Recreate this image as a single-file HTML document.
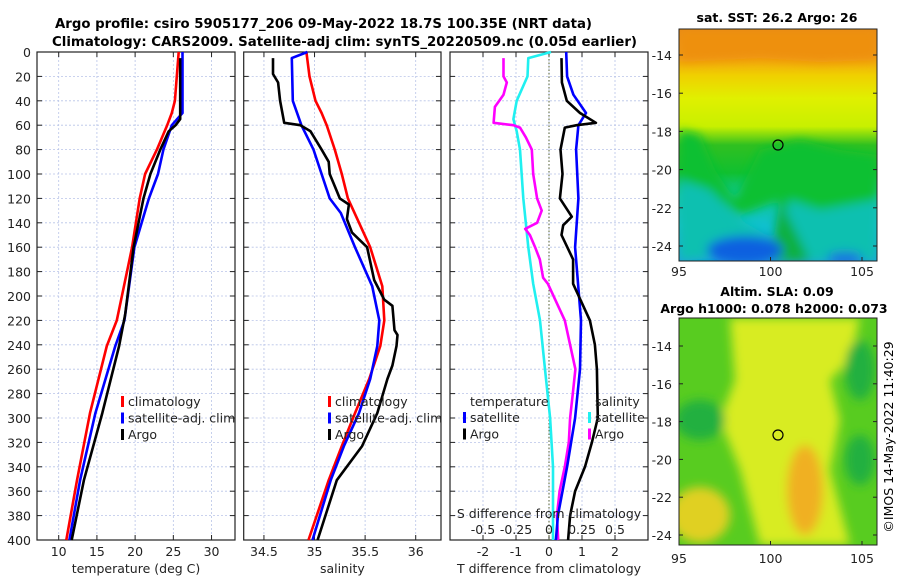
<!DOCTYPE html>
<html><head><meta charset="utf-8"><style>
body{margin:0;background:#fff;}
svg{display:block;font-family:"DejaVu Sans","Liberation Sans",sans-serif;}
</style></head><body>
<svg id="fig" width="900" height="580" viewBox="0 0 900 580" xmlns="http://www.w3.org/2000/svg">
<defs>
<filter id="blur" x="-20%" y="-20%" width="140%" height="140%"><feGaussianBlur stdDeviation="5"/></filter>
<clipPath id="cm1"><rect x="679" y="29" width="198" height="232"/></clipPath>
<clipPath id="cm2"><rect x="679" y="318" width="198" height="227"/></clipPath>
<linearGradient id="sstg" x1="0" y1="0" x2="0" y2="1">
<stop offset="0" stop-color="#e88a10"/><stop offset="0.12" stop-color="#f2a010"/>
<stop offset="0.2" stop-color="#f0d000"/><stop offset="0.3" stop-color="#e0f000"/>
<stop offset="0.42" stop-color="#c8f000"/><stop offset="0.5" stop-color="#30c020"/>
<stop offset="0.62" stop-color="#10c030"/><stop offset="0.72" stop-color="#10c8a0"/>
<stop offset="0.85" stop-color="#10c0d0"/><stop offset="1" stop-color="#18a0e0"/>
</linearGradient>
</defs>
<text x="55" y="28" font-size="13" font-weight="bold" textLength="537" lengthAdjust="spacingAndGlyphs">Argo profile: csiro 5905177_206 09-May-2022 18.7S 100.35E (NRT data)</text>
<text x="52" y="46" font-size="13" font-weight="bold" textLength="585" lengthAdjust="spacingAndGlyphs">Climatology: CARS2009. Satellite-adj clim: synTS_20220509.nc (0.05d earlier)</text>
<g id="panels"></g>

<!-- SST map -->
<g clip-path="url(#cm1)">
<rect x="679" y="29" width="198" height="232" fill="url(#sstg)"/>
<g filter="url(#blur)">
<path d="M679 130 L700 135 L715 170 L735 200 L760 150 L800 140 L840 150 L877 155 L877 200 L830 215 L800 240 L780 200 L740 215 L700 185 L679 180Z" fill="#10c030"/>
<path d="M679 180 L710 190 L740 220 L775 240 L790 200 L820 210 L877 200 L877 261 L800 261 L790 250 L679 261Z" fill="#10c0b0"/>
<path d="M780 200 L800 240 L810 261 L770 261Z" fill="#10b040"/>
<ellipse cx="745" cy="250" rx="38" ry="14" fill="#1060e0"/>
<ellipse cx="845" cy="258" rx="18" ry="6" fill="#1a70e0"/>
<path d="M679 29 L877 29 L877 60 L820 62 L760 58 L679 62Z" fill="#ee9010"/>
</g>
</g>
<rect x="679" y="29" width="198" height="232" fill="none" stroke="#222" stroke-width="1"/>
<circle cx="778" cy="145" r="5" fill="none" stroke="#000" stroke-width="1.2"/>
<text x="777" y="22" font-size="12.5" font-weight="bold" text-anchor="middle">sat. SST: 26.2 Argo: 26</text>

<!-- SLA map -->
<g clip-path="url(#cm2)">
<rect x="679" y="318" width="198" height="227" fill="#58cc20"/>
<g filter="url(#blur)">
<path d="M730 318 L860 318 L850 360 L830 380 L840 420 L830 470 L850 545 L760 545 L740 470 L720 420 L735 380Z" fill="#d8ec20"/>
<ellipse cx="700" cy="515" rx="30" ry="28" fill="#e0d020"/>
<ellipse cx="805" cy="490" rx="18" ry="45" fill="#f0b020"/>
<ellipse cx="700" cy="420" rx="25" ry="20" fill="#20b040"/>
<ellipse cx="860" cy="370" rx="15" ry="30" fill="#20b040"/>
<ellipse cx="860" cy="460" rx="15" ry="25" fill="#20b040"/>
</g>
</g>
<rect x="679" y="318" width="198" height="227" fill="none" stroke="#222" stroke-width="1"/>
<circle cx="778" cy="435" r="5" fill="none" stroke="#000" stroke-width="1.2"/>
<text x="777" y="296" font-size="12.5" font-weight="bold" text-anchor="middle">Altim. SLA: 0.09</text>
<text x="774" y="313" font-size="12.5" font-weight="bold" text-anchor="middle">Argo h1000: 0.078 h2000: 0.073</text>
<text transform="translate(893,437) rotate(-90)" font-size="12.5" text-anchor="middle">©IMOS 14-May-2022 11:40:29</text>
<g id="maps"></g>
</svg>
<script>
// ---- data ----
const depthTicks = [0,20,40,60,80,100,120,140,160,180,200,220,240,260,280,300,320,340,360,380,400];
const tClimDepth = [0,40,50,60,80,100,120,160,220,241,296,351,400];
const tClimVal   = [25.7,25.2,24.8,24.2,22.85,21.3,20.6,19.6,17.6,16.3,14.1,12.4,11.0];
const tSatDepth  = [0,50,60,80,100,120,160,220,241,296,351,400];
const tSatVal    = [26.2,26.2,24.8,23.7,23.0,21.8,19.9,18.6,17.4,14.8,12.8,11.4];
const tArgoDepth = [5,55,60,65,80,100,120,160,215,241,296,351,400];
const tArgoVal   = [25.9,25.9,25.3,24.4,23.3,22.0,21.1,19.8,18.7,17.9,15.7,13.3,11.7];
const sClimDepth = [0,20,40,50,60,80,100,120,160,192,220,241,268,296,323,351,400];
const sClimVal   = [34.92,34.95,35.01,35.07,35.12,35.2,35.27,35.33,35.55,35.67,35.69,35.65,35.54,35.40,35.27,35.14,34.94];
const sSatDepth  = [0,5,40,60,80,100,120,132,160,192,220,241,268,296,323,351,400];
const sSatVal    = [34.93,34.775,34.785,34.87,34.99,35.07,35.15,35.26,35.40,35.57,35.64,35.62,35.55,35.44,35.29,35.16,34.98];
const sArgoDepth = [5,18,25,40,58,60,65,80,90,100,110,120,125,137,148,160,187,203,208,228,232,241,257,268,296,323,351,400];
const sArgoVal   = [34.59,34.59,34.64,34.66,34.70,34.86,34.96,35.07,35.14,35.15,35.20,35.25,35.34,35.32,35.37,35.52,35.59,35.69,35.77,35.79,35.82,35.81,35.77,35.72,35.62,35.47,35.22,35.03];
const dTSatDepth = [0,20,35,50,60,80,120,160,220,260,300,340,380,400];
const dTSatVal   = [0.52,0.55,0.74,1.12,0.89,0.82,0.89,0.79,0.97,0.94,0.79,0.55,0.27,0.21];
const dTArgoDepth = [5,25,40,50,58,60,62,80,100,120,135,142,150,170,190,220,240,260,300,320,340,360,380,400];
const dTArgoVal   = [0.38,0.39,0.54,0.94,1.42,0.84,0.48,0.35,0.41,0.33,0.69,0.43,0.38,0.73,0.73,1.24,1.39,1.45,1.48,1.30,1.09,0.79,0.64,0.58];
const dSSatDepth = [0,5,20,40,55,65,80,120,160,190,220,260,300,340,380,400];
const dSSatVal   = [0.015,-0.157,-0.163,-0.245,-0.27,-0.245,-0.22,-0.195,-0.157,-0.12,-0.068,-0.03,0.008,0.03,0.03,0.03];
const dSArgoDepth = [5,20,25,35,45,58,60,62,70,80,100,120,130,140,145,150,160,170,185,190,220,240,260,280,300,320,340,360,380,400];
const dSArgoVal   = [-0.345,-0.345,-0.32,-0.345,-0.41,-0.42,-0.27,-0.22,-0.175,-0.13,-0.12,-0.09,-0.055,-0.09,-0.18,-0.145,-0.105,-0.07,-0.045,-0.008,0.12,0.16,0.20,0.18,0.16,0.15,0.12,0.08,0.06,0.07];
const tTicks = [10,15,20,25,30];
const sTicks = [34.5,35,35.5,36];
const dTicks = [-2,-1,0,1,2];
const dSTickLabels = ["-0.5","-0.25","0","0.25","0.5"];
const latTicks = [-14,-16,-18,-20,-22,-24];
const lonTicks = [95,100,105];

const NS="http://www.w3.org/2000/svg";
const root=document.getElementById('panels');
const FS=12.5;
function mk(tag,attrs,parent){const e=document.createElementNS(NS,tag);for(const k in attrs)e.setAttribute(k,attrs[k]);(parent||root).appendChild(e);return e;}
const Y0=52, Y1=540;
const yScale=d=>Y0+(d/400)*(Y1-Y0);

function panel(name,x0,x1,vmin,vmax,ticks,tickLabels,xlabel,showY){
  const g=mk('g',{});
  
  
  const xs=v=>x0+(v-vmin)/(vmax-vmin)*(x1-x0);
  depthTicks.forEach(d=>{if(d>0&&d<400){const l=mk('line',{x1:x0,x2:x1,y1:yScale(d),y2:yScale(d),stroke:'#b8c4e8','stroke-width':0.8,'stroke-dasharray':'2,2'},g);
    
    }
    mk('line',{x1:x0,x2:x0+5,y1:yScale(d),y2:yScale(d),stroke:'#222'},g);
    mk('line',{x1:x1-5,x2:x1,y1:yScale(d),y2:yScale(d),stroke:'#222'},g);
    if(showY){const t=mk('text',{x:x0-6,y:yScale(d)+5,'font-size':FS,'text-anchor':'end',fill:'#222'},g);t.textContent=d;
      
      }
  });
  ticks.forEach((v,i)=>{const x=xs(v);
    const l=mk('line',{x1:x,x2:x,y1:Y0,y2:Y1,stroke:'#b8c4e8','stroke-width':0.8,'stroke-dasharray':'2,2'},g);
    
    
    mk('line',{x1:x,x2:x,y1:Y1,y2:Y1-5,stroke:'#222'},g);
    mk('line',{x1:x,x2:x,y1:Y0,y2:Y0+5,stroke:'#222'},g);
    const t=mk('text',{x:x,y:556,'font-size':FS,'text-anchor':'middle',fill:'#222'},g);t.textContent=tickLabels[i];
    
    
  });
  const fr=mk('rect',{x:x0,y:Y0,width:x1-x0,height:Y1-Y0,fill:'none',stroke:'#222','stroke-width':1.2},g);
  
  
  const xl=mk('text',{x:(x0+x1)/2,y:573,'font-size':FS,'text-anchor':'middle',fill:'#222'},g);xl.textContent=xlabel;
  
  
  return {g,xs};
}
function line(p,depths,vals,color,name,scale){
  const pts=depths.map((d,i)=>p.xs(vals[i]*(scale||1)).toFixed(1)+','+yScale(d).toFixed(1)).join(' ');
  const l=mk('polyline',{points:pts,fill:'none',stroke:color,'stroke-width':2.6,'stroke-linejoin':'round'},p.g);
  
  
}
function legend(g,x,y,items){
  items.forEach((it,i)=>{
    mk('rect',{x:x,y:y+i*16.5-10,width:3,height:11,fill:it[1]},g);
    const t=mk('text',{x:x+7,y:y+i*16.5,'font-size':FS,fill:'#222'},g);t.textContent=it[0];
    
    
  });
}
const p1=panel('temperature-panel',37,235,7.16,33.07,tTicks,tTicks.map(String),'temperature (deg C)',true);
line(p1,tClimDepth,tClimVal,'#ff0000','temp-climatology-line');
line(p1,tSatDepth,tSatVal,'#0000ff','temp-satellite-line');
line(p1,tArgoDepth,tArgoVal,'#000','temp-argo-line');
legend(p1.g,121,406,[['climatology','#ff0000'],['satellite-adj. clim','#0000ff'],['Argo','#000']]);

const p2=panel('salinity-panel',243.7,441,34.30,36.25,sTicks,['34.5','35','35.5','36'],'salinity',false);
line(p2,sClimDepth,sClimVal,'#ff0000','sal-climatology-line');
line(p2,sSatDepth,sSatVal,'#0000ff','sal-satellite-line');
line(p2,sArgoDepth,sArgoVal,'#000','sal-argo-line');
legend(p2.g,328,406,[['climatology','#ff0000'],['satellite-adj. clim','#0000ff'],['Argo','#000']]);

const p3=panel('difference-panel',450,648,-3,3,dTicks,dTicks.map(String),'T difference from climatology',false);
mk('line',{x1:p3.xs(0),x2:p3.xs(0),y1:Y0,y2:Y1,stroke:'#556030','stroke-width':1,'stroke-dasharray':'1.5,2'},p3.g);
line(p3,dSSatDepth,dSSatVal,'#20f0f0','sdiff-satellite-line',4);
line(p3,dSArgoDepth,dSArgoVal,'#ff00ff','sdiff-argo-line',4);
line(p3,dTSatDepth,dTSatVal,'#0000ff','tdiff-satellite-line');
line(p3,dTArgoDepth,dTArgoVal,'#000','tdiff-argo-line');
{const t=mk('text',{x:470,y:406,'font-size':FS,fill:'#222'},p3.g);t.textContent='temperature';
 
 }
{const t=mk('text',{x:595,y:406,'font-size':FS,fill:'#222'},p3.g);t.textContent='salinity';
 
 }
legend(p3.g,463,422,[['satellite','#0000ff'],['Argo','#000']]);
legend(p3.g,588,422,[['satellite','#20f0f0'],['Argo','#ff00ff']]);
{const t=mk('text',{x:549,y:518,'font-size':FS,'text-anchor':'middle',fill:'#222'},p3.g);t.textContent='S difference from climatology';
 
 }
dTicks.forEach((v,i)=>{const t=mk('text',{x:p3.xs(v),y:534,'font-size':FS,'text-anchor':'middle',fill:'#222'},p3.g);t.textContent=dSTickLabels[i];
 
 });

const mg=document.getElementById('maps');
function mapAxes(top,bottom,latFn,labelY){
  latTicks.forEach(l=>{const y=latFn(l);
    mk('line',{x1:877,x2:873,y1:y,y2:y,stroke:'#222'},mg);
    mk('line',{x1:679,x2:683,y1:y,y2:y,stroke:'#222'},mg);
    const t=mk('text',{x:672,y:y+5,'font-size':FS,'text-anchor':'end',fill:'#222'},mg);t.textContent=l;
    
    });
  lonTicks.forEach(l=>{const x=679+(l-95)/10*183;
    mk('line',{x1:x,x2:x,y1:bottom,y2:bottom-4,stroke:'#222'},mg);
    const t=mk('text',{x:x,y:labelY,'font-size':FS,'text-anchor':'middle',fill:'#222'},mg);t.textContent=l;
    
    });
}
mapAxes(29,261,l=>55+(-14-l)/10*191,276);
mapAxes(318,545,l=>346+(-14-l)/10*189,563);
</script>
</body></html>
